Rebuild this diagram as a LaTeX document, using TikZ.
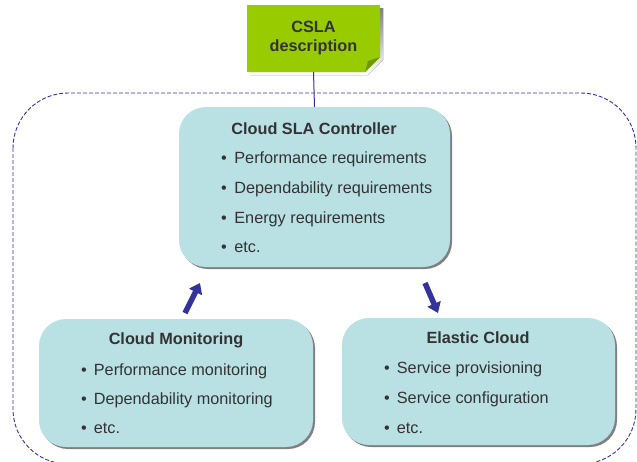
\documentclass[tikz,border=0pt]{standalone}
\usepackage{fontspec}
\setmainfont{Liberation Sans}
\usetikzlibrary{shadows,arrows.meta}
\definecolor{boxfill}{RGB}{185,224,227}
\definecolor{navy}{RGB}{51,51,153}
\definecolor{txt}{RGB}{51,51,51}
\definecolor{lime}{RGB}{153,204,0}
\definecolor{limedark}{RGB}{112,150,0}
\definecolor{shade}{RGB}{128,128,128}
\begin{document}
\begin{tikzpicture}[x=1pt,y=-1pt,
  every node/.style={inner sep=0pt, text=txt, font=\fontsize{16.25}{19}\selectfont},
  ttl/.style={anchor=base, font=\fontsize{16.25}{19}\selectfont\bfseries},
  item/.style={anchor=base west},
  panel/.style={draw=none, fill=boxfill, rounded corners=27pt,
    drop shadow={shadow xshift=2pt, shadow yshift=-2pt, fill=shade, opacity=1}},
  frame/.style={draw=navy, line width=0.9pt, dash pattern=on 4pt off 2pt, rounded corners=55pt},
  link/.style={draw=navy, line width=1pt},
  bigarrow/.style={draw=navy, line width=5.5pt, -{Triangle[length=10pt,width=14pt]}}
]
\useasboundingbox (0,0) rectangle (637,461);
\clip (0,0) rectangle (637,461);

% dashed frame
\draw[frame] (13,93) rectangle (636,464);

% CSLA note
\fill[shade] (250,8) -- (383,8) -- (383,60) -- (368,75) -- (250,75) -- cycle;
\fill[lime] (247,5) -- (380,5) -- (380,57) -- (365,72) -- (247,72) -- cycle;
\fill[limedark] (365,72) -- (368,61) -- (380,57) -- cycle;
\node[minimum width=133pt, minimum height=67pt, align=center,
  font=\fontsize{16.25}{19}\selectfont\bfseries] (csla) at (313.5,38.5) {CSLA\\description};

% panels
\node[panel, minimum width=271pt, minimum height=160pt] (ctrl) at (314.5,187) {};
\node[panel, minimum width=274pt, minimum height=128pt] (mon) at (176,383) {};
\node[panel, minimum width=273pt, minimum height=127pt] (ela) at (478.5,381.5) {};

% connector
\draw[link] (csla.south) -- (ctrl.north);

% controller text
\node[ttl] (ctrlT) at (314,134) {Cloud SLA Controller};
\node[item] (c1) at (221,163) {•\hspace{7.5pt}Performance requirements};
\node[item] (c2) at (221,193) {•\hspace{7.5pt}Dependability requirements};
\node[item] (c3) at (221,223) {•\hspace{7.5pt}Energy requirements};
\node[item] (c4) at (221,252) {•\hspace{7.5pt}etc.};

% monitoring text
\node[ttl] (monT) at (176,344) {Cloud Monitoring};
\node[item] (m1) at (81,375) {•\hspace{7pt}Performance monitoring};
\node[item] (m2) at (81,404) {•\hspace{7pt}Dependability monitoring};
\node[item] (m3) at (81,433) {•\hspace{7pt}etc.};

% elastic text
\node[ttl] (elaT) at (478,343) {Elastic Cloud};
\node[item] (e1) at (384,373) {•\hspace{7pt}Service provisioning};
\node[item] (e2) at (384,403) {•\hspace{7pt}Service configuration};
\node[item] (e3) at (384,433) {•\hspace{7pt}etc.};

% arrows
\coordinate (upS) at (185,313);
\coordinate (upE) at (200,283);
\coordinate (dnS) at (425,283);
\coordinate (dnE) at (438,313);
\draw[bigarrow] (upS) -- (upE);
\draw[bigarrow] (dnS) -- (dnE);
\end{tikzpicture}
\end{document}
